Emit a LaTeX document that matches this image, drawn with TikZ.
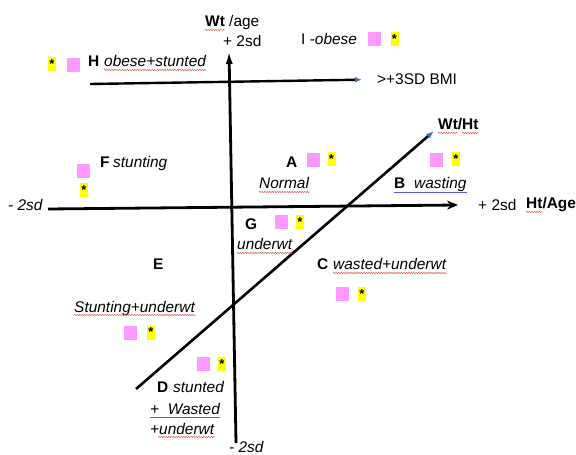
\documentclass[tikz,border=0pt]{standalone}
\usepackage{fontspec}
\setmainfont{Liberation Sans}
\usetikzlibrary{arrows.meta,decorations.pathmorphing}
\definecolor{mkpink}{RGB}{255,153,255}
\definecolor{mkyellow}{RGB}{255,255,0}
\definecolor{tipblue}{RGB}{68,114,196}
\definecolor{waved}{RGB}{225,70,70}
\definecolor{gramblue}{RGB}{90,90,220}
\begin{document}
\begin{tikzpicture}[x=1bp,y=-1bp,
  font=\fontsize{15.5}{18}\selectfont,
  pinkbox/.style={fill=mkpink, minimum width=13bp, minimum height=14bp, inner sep=0},
  starbox/.style={fill=mkyellow, minimum width=8bp, minimum height=14bp, inner sep=0,
    font=\fontsize{13}{13}\selectfont\bfseries, text=black},
  txt/.style={inner sep=0, anchor=base west},
  axis/.style={line width=2.8bp, black},
  spell/.style={draw=waved, line width=0.5bp, decorate,
    decoration={snake, amplitude=0.6bp, segment length=2.5bp}},
  gram/.style={draw=gramblue, line width=0.6bp}]
\useasboundingbox (0,0) rectangle (576,455);

% top axis labels
\node[txt] (wtage) at (205,27) {\textbf{Wt} /age};
\node[txt] (p2top) at (223,47) {+ 2sd};
\draw[spell] ([yshift=-3bp]wtage.base west) -- ++(20,0);

% H
\node[starbox] (Hs) at (52,64) {\raisebox{-0.35em}{*}};
\node[pinkbox] (Hp) at (73,65) {};
\node[txt] (Hl) at (88,67) {\textbf{H}};
\node[txt] (Ht) at (104,67) {\textit{obese+stunted}};
\draw[spell] ([yshift=-3bp]Ht.base west) -- ([yshift=-3bp]Ht.base east);

% I
\node[txt] (Il) at (301,45) {I -\textit{obese}};
\node[pinkbox] (Ip) at (374,39) {};
\node[starbox] (Is) at (394.5,39.5) {\raisebox{-0.35em}{*}};

% BMI line
\coordinate (bmiL) at (90,84);
\node[txt] (bmi) at (377,85) {>+3SD BMI};
\draw[line width=2.4bp, -{Latex[length=7bp,width=6bp,color=tipblue]}]
  (bmiL) -- ([xshift=-15bp]bmi.west);

% vertical axis
\coordinate (vb) at (236,443);
\coordinate (vt) at (229,50);
\draw[axis, -{Latex[length=14bp,width=7bp]}] (vb) -- (vt);
\node[txt] (m2b) at (229,452) {\textit{- 2sd}};

% horizontal axis
\node[txt] (m2l) at (8,211) {\textit{- 2sd}};
\coordinate (hl) at (48,209);
\coordinate (hr) at (458,205);
\draw[axis, -{Stealth[length=11bp,width=9bp]}] (hl) -- (hr);
\node[txt] (p2r) at (478,211) {+ 2sd};
\node[txt] (htage) at (526,209) {\textbf{Ht/Age}};
\draw[spell] ([yshift=-3bp]htage.base west) -- ++(16.4,0);

% diagonal
\coordinate (db) at (136,389);
\coordinate (dt) at (434,131);
\draw[axis, line width=2.6bp, -{Latex[length=8bp,width=6bp,color=tipblue]}] (db) -- (dt);
\node[txt] (wtht) at (438,130) {\textbf{Wt/Ht}};
\draw[spell] ([yshift=-3bp]wtht.base west) -- ++(19.8,0);
\draw[spell] ([yshift=-3bp,xshift=24.1bp]wtht.base west) -- ++(16.4,0);

% A
\node[txt] (Al) at (286,168) {\textbf{A}};
\node[pinkbox] (Ap) at (313,160) {};
\node[starbox] (As) at (331.5,159.5) {\raisebox{-0.35em}{*}};
\node[txt] (Nt) at (259,189) {\textit{Normal}};
\draw[spell] ([yshift=-3bp]Nt.base west) -- ([yshift=-3bp]Nt.base east);

% B
\node[pinkbox] (Bp) at (436,160) {};
\node[starbox] (Bs) at (456,159) {\raisebox{-0.35em}{*}};
\node[txt] (Bl) at (394,189) {\textbf{B}};
\node[txt] (Bt) at (414,189) {\textit{wasting}};
\draw[gram] ([yshift=-3bp]Bl.base west) -- ([yshift=-3bp]Bt.base east);

% F
\node[pinkbox] (Fp) at (83,171) {};
\node[starbox] (Fs) at (84,190) {\raisebox{-0.35em}{*}};
\node[txt] (Fl) at (100,168) {\textbf{F}};
\node[txt] (Ft) at (113,168) {\textit{stunting}};

% G
\node[txt] (Gl) at (245,230) {\textbf{G}};
\node[pinkbox] (Gp) at (281,222) {};
\node[starbox] (Gs) at (300,222) {\raisebox{-0.35em}{*}};
\node[txt] (Gt) at (237,250) {\textit{underwt}};
\draw[spell] ([yshift=-3bp]Gt.base west) -- ([yshift=-3bp]Gt.base east);

% E
\node[txt] (El) at (153,270) {\textbf{E}};
\node[txt] (Et) at (74,312) {\textit{Stunting+underwt}};
\draw[spell] ([yshift=-3bp]Et.base west) -- ([yshift=-3bp]Et.base east);
\node[pinkbox] (Ep) at (130.5,332.5) {};
\node[starbox] (Es) at (151,332.5) {\raisebox{-0.35em}{*}};

% C
\node[txt] (Cl) at (317,270) {\textbf{C}};
\node[txt] (Ct) at (333,270) {\textit{wasted+underwt}};
\draw[spell] ([yshift=-3bp]Ct.base west) -- ([yshift=-3bp]Ct.base east);
\node[pinkbox] (Cp) at (342,294) {};
\node[starbox] (Cs) at (362,294) {\raisebox{-0.35em}{*}};

% D
\node[pinkbox] (Dp) at (203,364) {};
\node[starbox] (Ds) at (222,364) {\raisebox{-0.35em}{*}};
\node[txt] (Dl) at (157,392) {\textbf{D}};
\node[txt] (Dt) at (173,392) {\textit{stunted}};
\node[txt] (Dw) at (150,414) {\textit{+\ \ Wasted}};
\draw[gram] ([yshift=-3bp]Dw.base west) -- ([yshift=-3bp]Dw.base east);
\node[txt] (Du) at (150,434) {\textit{+underwt}};
\draw[spell] ([yshift=-3bp,xshift=8bp]Du.base west) -- ([yshift=-3bp]Du.base east);
\end{tikzpicture}
\end{document}
